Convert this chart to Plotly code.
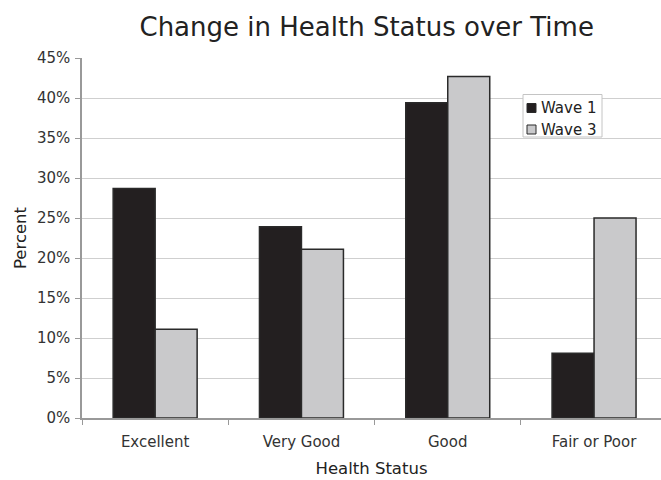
import plotly.graph_objects as go

categories = ["Excellent", "Very Good", "Good", "Fair or Poor"]
wave1 = [0.287, 0.239, 0.394, 0.081]
wave3 = [0.111, 0.211, 0.427, 0.250]
y_ticks = [0, 0.05, 0.10, 0.15, 0.20, 0.25, 0.30, 0.35, 0.40, 0.45]
y_tick_labels = ["0%", "5%", "10%", "15%", "20%", "25%", "30%", "35%", "40%", "45%"]
series_names = ["Wave 1", "Wave 3"]
series_colors = ["#231f20", "#c9c9cb"]

FONT = "DejaVu Sans, Verdana, sans-serif"
W, H = 661, 480
ML, MR, MT, MB = 82, 0, 58, 62
PW, PH = W - ML - MR, H - MT - MB


def px_x(px):
    return (px - ML) / PW


def px_y(py):
    return 1 - (py - MT) / PH


fig = go.Figure()
for name, vals, col in zip(series_names, [wave1, wave3], series_colors):
    fig.add_trace(go.Bar(x=categories, y=vals, name=name, showlegend=False,
                         marker=dict(color=col, line=dict(color="#2a2a2a", width=1.5))))

# custom legend (box, swatches, labels)
shapes = [dict(type="rect", xref="paper", yref="paper",
               x0=px_x(523), x1=px_x(602), y0=px_y(137), y1=px_y(94.5),
               line=dict(color="#c4c4c4", width=1), fillcolor="white", layer="above")]
annotations = []
for i, (name, col) in enumerate(zip(series_names, series_colors)):
    cy = 108 + i * 21.5
    shapes.append(dict(type="rect", xref="paper", yref="paper",
                       x0=px_x(527), x1=px_x(536), y0=px_y(cy + 4.5), y1=px_y(cy - 4.5),
                       line=dict(color="#2a2a2a", width=1), fillcolor=col, layer="above"))
    annotations.append(dict(text=name, xref="paper", yref="paper",
                            x=px_x(539), y=px_y(cy), xanchor="left", yanchor="middle",
                            showarrow=False,
                            font=dict(family=FONT, size=15, color="#222222")))

fig.update_layout(
    width=W, height=H,
    margin=dict(l=ML, r=MR, t=MT, b=MB),
    paper_bgcolor="white", plot_bgcolor="white",
    barmode="group", bargap=0.426, bargroupgap=0,
    font=dict(family=FONT, color="#333333", size=15),
    showlegend=False,
    shapes=shapes, annotations=annotations,
    title=dict(text="Change in Health Status over Time", x=366.7 / W, xanchor="center",
               y=1 - 27 / H, yanchor="middle",
               font=dict(family=FONT, size=26, color="#222222")),
    xaxis=dict(range=[-0.5, -0.5 + PW / 146.3],
               showline=True, linecolor="#999999", linewidth=1.5,
               ticks="outside", tickson="boundaries", ticklen=5, tickcolor="#999999",
               ticklabelstandoff=9,
               showgrid=False,
               tickfont=dict(family=FONT, size=15, color="#333333"),
               title=dict(text="Health Status", font=dict(family=FONT, size=16.5, color="#222222"),
                          standoff=13)),
    yaxis=dict(range=[0, 0.45], tickvals=y_ticks, ticktext=y_tick_labels,
               showline=True, linecolor="#999999", linewidth=1.5,
               ticks="outside", ticklen=5, tickcolor="#999999",
               ticklabelstandoff=2,
               showgrid=True, gridcolor="#cfcfcf", gridwidth=1.2,
               zeroline=False,
               tickfont=dict(family=FONT, size=15, color="#333333"),
               title=dict(text="Percent", font=dict(family=FONT, size=16.5, color="#222222"),
                          standoff=6)),
)

fig.write_html("out.html")
